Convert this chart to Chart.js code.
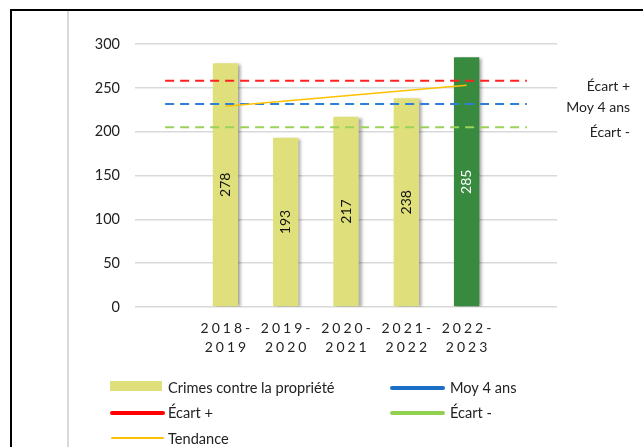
<!DOCTYPE html>
<html>
<head>
<meta charset="utf-8">
<script src="https://cdn.jsdelivr.net/npm/chart.js@4"></script>
<style>
    html, body { margin: 0; padding: 0; background: #fff; }
    #wrap { width: 643px; height: 447px; position: relative; }
</style>
</head>
<body>
<div id="wrap"><canvas id="crimeChart" width="643" height="447"></canvas></div>
<script>
// Data
const categories = ['', '2018-2019', '2019-2020', '2020-2021', '2021-2022', '2022-2023', ''];
const crimes = [null, 278, 193, 217, 238, 285, null];
const barColors = [null, '#dfe07b', '#dfe07b', '#dfe07b', '#dfe07b', '#378a3e', null];
const moy4ans = [231.5, 231.5, 231.5, 231.5, 231.5, 231.5, 231.5];
const ecartPlus = [258, 258, 258, 258, 258, 258, 258];
const ecartMoins = [205, 205, 205, 205, 205, 205, 205];
const tendance = [null, 229, 235, 241, 247, 253, null];
const yTicks = [0, 50, 100, 150, 200, 250, 300];

const FONT = 'Lato, "Open Sans", sans-serif';

// Frame, bar shadow, value labels, x labels, right labels, legend
const decorPlugin = {
    id: 'decor',
    beforeDraw(chart) {
        const ctx = chart.ctx;
        ctx.save();
        ctx.fillStyle = '#fff';
        ctx.fillRect(0, 0, chart.width, chart.height);
        ctx.fillStyle = '#000';
        ctx.fillRect(10, 9, chart.width - 10, 2);
        ctx.fillRect(10, 9, 2, chart.height - 9);
        ctx.fillStyle = '#d9d9d9';
        ctx.fillRect(67, 11, 2, chart.height - 11);
        ctx.restore();
    },
    beforeDatasetDraw(chart, args) {
        if (args.index === 0) {
            const ctx = chart.ctx;
            ctx.save();
            ctx.shadowColor = 'rgba(0,0,0,0.35)';
            ctx.shadowOffsetX = 3;
            ctx.shadowOffsetY = 1;
            ctx.shadowBlur = 3;
        }
    },
    afterDatasetDraw(chart, args) {
        if (args.index === 0) chart.ctx.restore();
    },
    afterDraw(chart) {
        const ctx = chart.ctx;
        const meta = chart.getDatasetMeta(0);
        const xScale = chart.scales.x;

        // Values inside bars
        ctx.save();
        ctx.font = '14px ' + FONT;
        ctx.textAlign = 'center';
        ctx.textBaseline = 'middle';
        meta.data.forEach((bar, i) => {
            if (crimes[i] == null) return;
            ctx.save();
            ctx.translate(bar.x, (bar.y + bar.base) / 2);
            ctx.rotate(-Math.PI / 2);
            ctx.fillStyle = i === 5 ? '#fff' : '#111';
            ctx.fillText(String(crimes[i]), 0, 0);
            ctx.restore();
        });
        ctx.restore();

        // Category labels, two lines with letter spacing
        ctx.save();
        ctx.font = '14px ' + FONT;
        ctx.fillStyle = '#222';
        ctx.textAlign = 'center';
        ctx.textBaseline = 'middle';
        ctx.letterSpacing = '3px';
        categories.forEach((c, i) => {
            if (!c) return;
            const x = xScale.getPixelForValue(i) + 1.5;
            const parts = c.split('-');
            ctx.fillText(parts[0] + '-', x, 328);
            ctx.fillText(parts[1], x, 347);
        });
        ctx.restore();

        // Labels on the right of the reference lines
        ctx.save();
        ctx.font = '14px ' + FONT;
        ctx.fillStyle = '#222';
        ctx.textAlign = 'right';
        ctx.textBaseline = 'middle';
        ctx.fillText('Écart +', 630, 86);
        ctx.fillText('Moy 4 ans', 630, 107);
        ctx.fillText('Écart -', 630, 132);
        ctx.restore();

        // Legend
        ctx.save();
        ctx.font = '14.6px ' + FONT;
        ctx.textAlign = 'left';
        ctx.textBaseline = 'middle';
        ctx.lineCap = 'round';
        const legendLine = (x, y, color, w) => {
            ctx.strokeStyle = color;
            ctx.lineWidth = w;
            ctx.beginPath();
            ctx.moveTo(x + 2, y);
            ctx.lineTo(x + 53, y);
            ctx.stroke();
        };
        ctx.fillStyle = '#dfe07b';
        ctx.fillRect(110, 381, 52, 10);
        legendLine(390, 388, '#1a6fc4', 4);
        legendLine(110, 413, '#ff0000', 4);
        legendLine(390, 413, '#92d050', 4);
        legendLine(110, 438, '#ffc000', 2);
        ctx.fillStyle = '#222';
        ctx.fillText('Crimes contre la propriété', 168, 388);
        ctx.fillText('Moy 4 ans', 450, 388);
        ctx.fillText('Écart +', 168, 413);
        ctx.fillText('Écart -', 450, 413);
        ctx.fillText('Tendance', 168, 439);
        ctx.restore();
    }
};

const lineDefaults = {
    type: 'line',
    pointRadius: 0,
    borderWidth: 2,
    fill: false,
    order: 1
};

new Chart(document.getElementById('crimeChart').getContext('2d'), {
    type: 'bar',
    data: {
        labels: categories,
        datasets: [{
            label: 'Crimes contre la propriété',
            data: crimes,
            backgroundColor: barColors,
            barPercentage: 0.42,
            categoryPercentage: 1,
            order: 5
        }, {
            ...lineDefaults,
            label: 'Moy 4 ans',
            data: moy4ans,
            borderColor: '#2f7fd6',
            borderDash: [9, 6]
        }, {
            ...lineDefaults,
            label: 'Écart +',
            data: ecartPlus,
            borderColor: '#ff2020',
            borderDash: [9, 6]
        }, {
            ...lineDefaults,
            label: 'Écart -',
            data: ecartMoins,
            borderColor: '#9ad25a',
            borderDash: [9, 6]
        }, {
            ...lineDefaults,
            label: 'Tendance',
            data: tendance,
            borderColor: '#ffc000',
            borderWidth: 1.6,
            order: 0
        }]
    },
    options: {
        responsive: false,
        animation: false,
        layout: { padding: { top: 44, right: 86, bottom: 0, left: 0 } },
        plugins: {
            legend: { display: false },
            tooltip: { enabled: false }
        },
        scales: {
            x: {
                grid: { display: false },
                border: { display: false },
                ticks: { display: false },
                afterFit: (s) => { s.height = 140; }
            },
            y: {
                min: 0,
                max: 300,
                afterBuildTicks: (s) => { s.ticks = yTicks.map(v => ({ value: v })); },
                afterFit: (s) => { s.width = 135; },
                grid: { color: '#d9d9d9', lineWidth: 1.5, drawTicks: false },
                border: { display: false },
                ticks: {
                    padding: 15,
                    color: '#222',
                    font: { family: FONT, size: 14.5 }
                }
            }
        }
    },
    plugins: [decorPlugin]
});
</script>
</body>
</html>
